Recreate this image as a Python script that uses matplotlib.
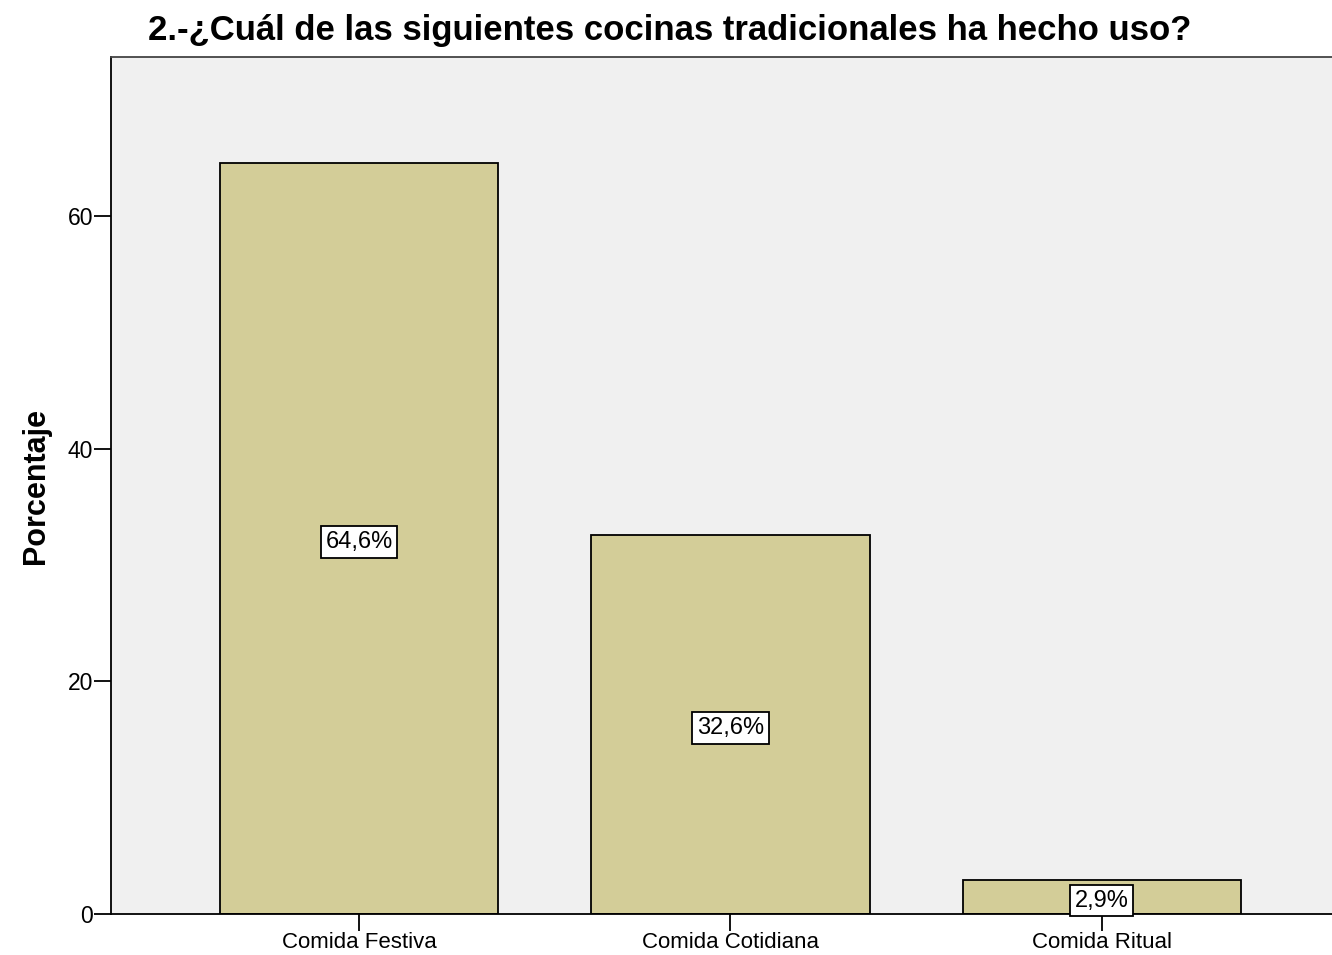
import matplotlib
matplotlib.use('Agg')
import matplotlib.pyplot as plt

plt.rcParams['font.family'] = ['Liberation Sans', 'DejaVu Sans']

categorias = ['Comida Festiva', 'Comida Cotidiana', 'Comida Ritual']
porcentajes = [64.6, 32.6, 2.9]
etiquetas = ['64,6%', '32,6%', '2,9%']

fig = plt.figure(figsize=(13.32, 9.55), dpi=100)
ax = fig.add_axes([111 / 1332, 1 - 914 / 955, (1332 - 111) / 1332, (914 - 57) / 955])
ax.set_facecolor('#F0F0F0')

x = range(len(categorias))
ax.bar(x, porcentajes, width=0.75, color='#D3CD98', edgecolor='black', linewidth=1.3, zorder=2)

for i, v in enumerate(porcentajes):
    ax.text(i, v / 2 - 0.3, etiquetas[i], ha='center', va='center', fontsize=17, zorder=3,
            bbox=dict(boxstyle='square,pad=0.2', facecolor='white', edgecolor='black', linewidth=1.3))

ax.set_xlim(-0.668, 2.62)
ax.set_ylim(0, 73.7)
ax.set_yticks([0, 20, 40, 60])
ax.set_xticks(list(x))
ax.set_xticklabels(categorias)
ax.tick_params(axis='y', direction='out', length=12, width=1.3, labelsize=16.5, pad=1)
ax.tick_params(axis='x', direction='out', length=12, width=1.3, labelsize=16, pad=1)

for s in ['left', 'bottom', 'top']:
    ax.spines[s].set_linewidth(1.3)
ax.spines['top'].set_color('#444444')
ax.spines['right'].set_visible(False)

ax.set_ylabel('Porcentaje', fontsize=22, fontweight='bold', labelpad=12)
fig.text(0.503, 0.968, '2.-¿Cuál de las siguientes cocinas tradicionales ha hecho uso?',
         ha='center', va='center', fontsize=25, fontweight='bold')

fig.savefig('out.png', dpi=100)
